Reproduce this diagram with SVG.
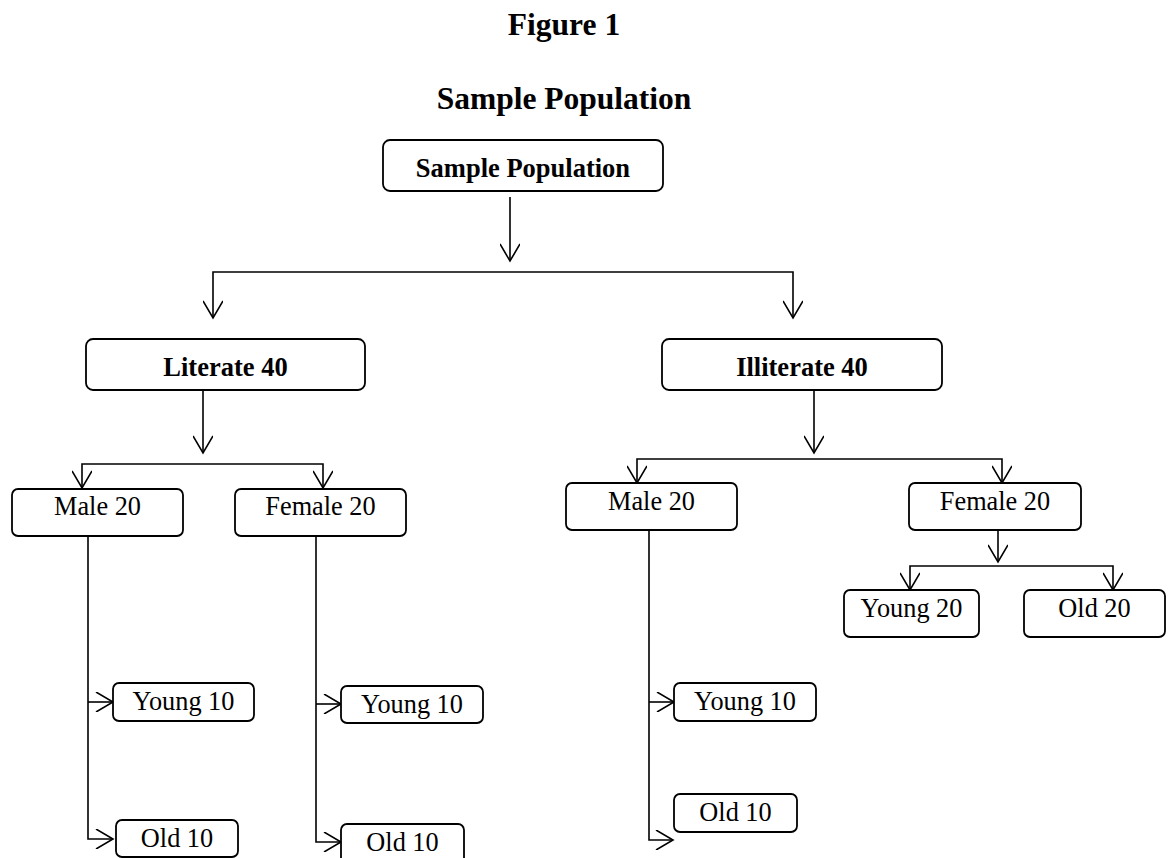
<svg xmlns="http://www.w3.org/2000/svg" width="1171" height="858" viewBox="0 0 1171 858">
<defs>
<style>
.title{font-family:"Liberation Serif","Times New Roman",serif;font-weight:bold;font-size:31.5px;text-anchor:middle;fill:#000}
.big{font-family:"Liberation Serif","Times New Roman",serif;font-weight:bold;font-size:26.5px;text-anchor:middle;fill:#000}
.sm{font-family:"Liberation Serif","Times New Roman",serif;font-size:26.3px;text-anchor:middle;fill:#000}
rect{fill:#fff;stroke:#000;stroke-width:1.8}
.c path{fill:none;stroke:#000;stroke-width:1.6}
</style>
<marker id="ar" viewBox="0 0 20 20" refX="18" refY="10" markerWidth="20" markerHeight="20" markerUnits="userSpaceOnUse" orient="auto">
<path d="M1,0 L18,10 L1,20" fill="none" stroke="#000" stroke-width="1.6"/>
</marker>
</defs>
<rect x="0" y="0" width="1171" height="858" style="fill:#fff;stroke:none"/>
<text class="title" x="564" y="35">Figure 1</text>
<text class="title" x="564" y="109">Sample Population</text>

<g class="c" id="connectors">
<path d="M510,197 V261" marker-end="url(#ar)"/>
<path d="M503,272 H213 V318" marker-end="url(#ar)"/>
<path d="M503,272 H793 V318" marker-end="url(#ar)"/>
<path d="M203,390 V453" marker-end="url(#ar)"/>
<path d="M203,464 H82 V488" marker-end="url(#ar)"/>
<path d="M203,464 H323 V488" marker-end="url(#ar)"/>
<path d="M814,390 V453" marker-end="url(#ar)"/>
<path d="M814,459 H637 V483" marker-end="url(#ar)"/>
<path d="M814,459 H1002 V483" marker-end="url(#ar)"/>
<path d="M998,530 V562" marker-end="url(#ar)"/>
<path d="M998,566 H910 V590" marker-end="url(#ar)"/>
<path d="M998,566 H1113 V590" marker-end="url(#ar)"/>
<path d="M88,536 V839 H113" marker-end="url(#ar)"/>
<path d="M88,702 H113" marker-end="url(#ar)"/>
<path d="M316,536 V842 H341" marker-end="url(#ar)"/>
<path d="M316,704 H341" marker-end="url(#ar)"/>
<path d="M649,530 V840 H673" marker-end="url(#ar)"/>
<path d="M649,702 H674" marker-end="url(#ar)"/>
</g>

<g id="n-sample"><rect x="383" y="140" width="280" height="51" rx="7"/><text class="big" x="523" y="177">Sample Population</text></g>
<g id="n-literate"><rect x="86" y="339" width="279" height="51" rx="7"/><text class="big" x="225.5" y="376">Literate 40</text></g>
<g id="n-illiterate"><rect x="662" y="339" width="280" height="51" rx="7"/><text class="big" x="802" y="376">Illiterate 40</text></g>

<g id="n-lit-male"><rect x="12" y="489" width="171" height="47" rx="6"/><text class="sm" x="97.5" y="515">Male 20</text></g>
<g id="n-lit-female"><rect x="235" y="489" width="171" height="47" rx="6"/><text class="sm" x="320.5" y="515">Female 20</text></g>
<g id="n-ill-male"><rect x="566" y="483" width="171" height="47" rx="6"/><text class="sm" x="651.5" y="510">Male 20</text></g>
<g id="n-ill-female"><rect x="909" y="483" width="172" height="47" rx="6"/><text class="sm" x="995" y="510">Female 20</text></g>

<g id="n-ill-young20"><rect x="844" y="590" width="135" height="47" rx="6"/><text class="sm" x="911.5" y="617">Young 20</text></g>
<g id="n-ill-old20"><rect x="1024" y="590" width="141" height="47" rx="6"/><text class="sm" x="1094.5" y="617">Old 20</text></g>

<g id="n-lm-young"><rect x="113" y="683" width="141" height="38" rx="6"/><text class="sm" x="183.5" y="710">Young 10</text></g>
<g id="n-lm-old"><rect x="116" y="820" width="122" height="37" rx="6"/><text class="sm" x="177" y="847">Old 10</text></g>
<g id="n-lf-young"><rect x="341" y="686" width="142" height="37" rx="6"/><text class="sm" x="412" y="713">Young 10</text></g>
<g id="n-lf-old"><rect x="341" y="824" width="123" height="40" rx="6"/><text class="sm" x="402.5" y="851">Old 10</text></g>
<g id="n-im-young"><rect x="674" y="683" width="142" height="38" rx="6"/><text class="sm" x="745" y="710">Young 10</text></g>
<g id="n-im-old"><rect x="674" y="794" width="123" height="38" rx="6"/><text class="sm" x="735.5" y="821">Old 10</text></g>
</svg>
